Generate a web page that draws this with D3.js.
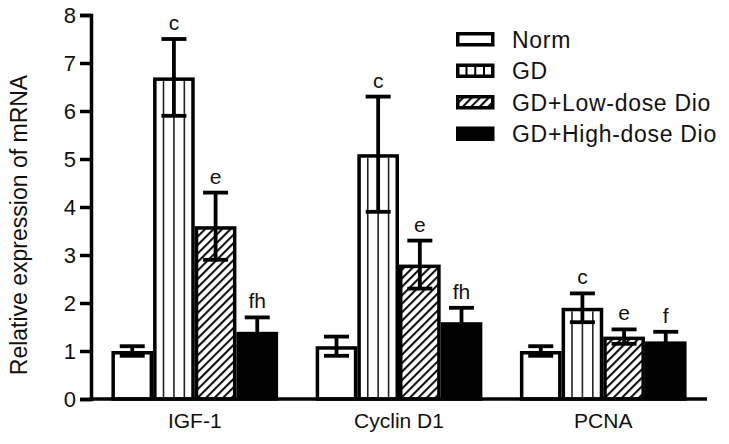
<!DOCTYPE html>
<html>
<head>
<meta charset="utf-8">
<script src="https://cdn.jsdelivr.net/npm/d3@7"></script>
<style>
  html, body { margin: 0; padding: 0; background: #fff; }
  svg { display: block; }
  text { font-family: "Liberation Sans", Arial, sans-serif; fill: #111; }
</style>
</head>
<body>
<svg id="chart" width="729" height="444"></svg>
<script>
// ---- data ----
const categories = ["IGF-1", "Cyclin D1", "PCNA"];
const groups = ["Norm", "GD", "GD+Low-dose Dio", "GD+High-dose Dio"];
const normValues = [1.0, 1.1, 1.0];
const gdValues = [6.7, 5.1, 1.9];
const lowValues = [3.6, 2.8, 1.3];
const highValues = [1.4, 1.6, 1.2];
const normErr = [0.1, 0.2, 0.1];
const gdErr = [0.8, 1.2, 0.3];
const lowErr = [0.7, 0.5, 0.15];
const highErr = [0.3, 0.3, 0.2];
const gdSig = ["c", "c", "c"];
const lowSig = ["e", "e", "e"];
const highSig = ["fh", "fh", "f"];
const yTicks = [0, 1, 2, 3, 4, 5, 6, 7, 8];
const yLabel = "Relative expression of mRNA";

const values = [normValues, gdValues, lowValues, highValues];
const errs = [normErr, gdErr, lowErr, highErr];
const sigs = [null, gdSig, lowSig, highSig];
const fills = ["#fff", "#fff", "url(#hatch)", "#000"];

const svg = d3.select("#chart");
const margin = { left: 91, right: 22, top: 15, bottom: 45 };
const W = 729, H = 444;

const x0 = d3.scaleBand().domain(categories).range([margin.left, W - margin.right])
  .paddingInner(0.184).paddingOuter(0.1);
const x1 = d3.scaleBand().domain(groups).range([0, x0.bandwidth()]).padding(0);
const y = d3.scaleLinear().domain([0, 8]).range([H - margin.bottom, margin.top]);

// patterns
const defs = svg.append("defs");
const hatch = defs.append("pattern").attr("id", "hatch").attr("patternUnits", "userSpaceOnUse")
  .attr("width", 6).attr("height", 6).attr("patternTransform", "rotate(45)");
hatch.append("rect").attr("width", 6).attr("height", 6).attr("fill", "#fff");
hatch.append("line").attr("x1", 0).attr("y1", 0).attr("x2", 0).attr("y2", 6)
  .attr("stroke", "#111").attr("stroke-width", 4.2);

// bars
const bw = x1.bandwidth();
const sw = 3.5;
categories.forEach((cat, ci) => {
  groups.forEach((g, gi) => {
    const v = values[gi][ci];
    const bx = x0(cat) + x1(g);
    svg.append("rect")
      .attr("x", bx + sw / 2).attr("y", y(v) + sw / 2)
      .attr("width", bw - sw).attr("height", y(0) - y(v) - sw / 2)
      .attr("fill", fills[gi])
      .attr("stroke", "#000").attr("stroke-width", sw);
    if (gi === 1) {
      [0.25, 0.5, 0.75].forEach(f => {
        svg.append("line")
          .attr("x1", bx + bw * f).attr("x2", bx + bw * f)
          .attr("y1", y(v) + sw).attr("y2", y(0))
          .attr("stroke", "#222").attr("stroke-width", 1.6);
      });
    }
  });
});

// error bars
categories.forEach((cat, ci) => {
  groups.forEach((g, gi) => {
    const v = values[gi][ci], e = errs[gi][ci];
    const cx = x0(cat) + x1(g) + bw / 2;
    const capW = 12.5;
    const gEb = svg.append("g").attr("stroke", "#000").attr("stroke-width", 3.8);
    gEb.append("line").attr("x1", cx).attr("x2", cx).attr("y1", y(v - e)).attr("y2", y(v + e));
    gEb.append("line").attr("x1", cx - capW).attr("x2", cx + capW).attr("y1", y(v + e)).attr("y2", y(v + e));
    gEb.append("line").attr("x1", cx - capW).attr("x2", cx + capW).attr("y1", y(v - e)).attr("y2", y(v - e));
    if (sigs[gi]) {
      svg.append("text").attr("x", cx).attr("y", y(v + e) - 9)
        .attr("text-anchor", "middle").attr("font-size", 21).text(sigs[gi][ci]);
    }
  });
});

// axes
const yAxis = svg.append("g").attr("transform", `translate(${margin.left},0)`)
  .call(d3.axisLeft(y).tickValues(yTicks).tickSize(11).tickPadding(4).tickFormat(d3.format("d")));
yAxis.select(".domain").attr("stroke", "#000").attr("stroke-width", 3.5);
yAxis.selectAll(".tick line").attr("stroke", "#000").attr("stroke-width", 3.5);
yAxis.selectAll(".tick text").attr("font-size", 22).attr("font-family", "Liberation Sans, Arial, sans-serif").attr("fill", "#111");

const xAxis = svg.append("g").attr("transform", `translate(0,${y(0)})`)
  .call(d3.axisBottom(x0).tickSize(0).tickPadding(14));
xAxis.select(".domain").attr("stroke", "#000").attr("stroke-width", 3.5)
  .attr("d", `M${margin.left - 1.75},0H${W - margin.right}`);
xAxis.selectAll(".tick text").attr("font-size", 21).attr("font-family", "Liberation Sans, Arial, sans-serif").attr("fill", "#111");

// y label
svg.append("text").attr("transform", `translate(27,${(y(0) + y(8)) / 2 + 18}) rotate(-90)`)
  .attr("text-anchor", "middle").attr("font-size", 23).text(yLabel);

// legend
const lg = svg.append("g").attr("transform", "translate(456,32)");
groups.forEach((g, i) => {
  const row = lg.append("g").attr("transform", `translate(0,${i * 31.5})`);
  row.append("rect").attr("x", 1.75).attr("y", 1.75).attr("width", 35).attr("height", 11)
    .attr("fill", fills[i]).attr("stroke", "#000").attr("stroke-width", 3.5);
  if (i === 1) {
    [0.25, 0.5, 0.75].forEach(f => {
      row.append("line").attr("x1", 1.75 + 35 * f).attr("x2", 1.75 + 35 * f).attr("y1", 2).attr("y2", 13)
        .attr("stroke", "#000").attr("stroke-width", 2);
    });
  }
  row.append("text").attr("x", 56).attr("y", 15.5).attr("font-size", 23)
    .attr("letter-spacing", 0.7).text(g);
});
</script>
</body>
</html>
